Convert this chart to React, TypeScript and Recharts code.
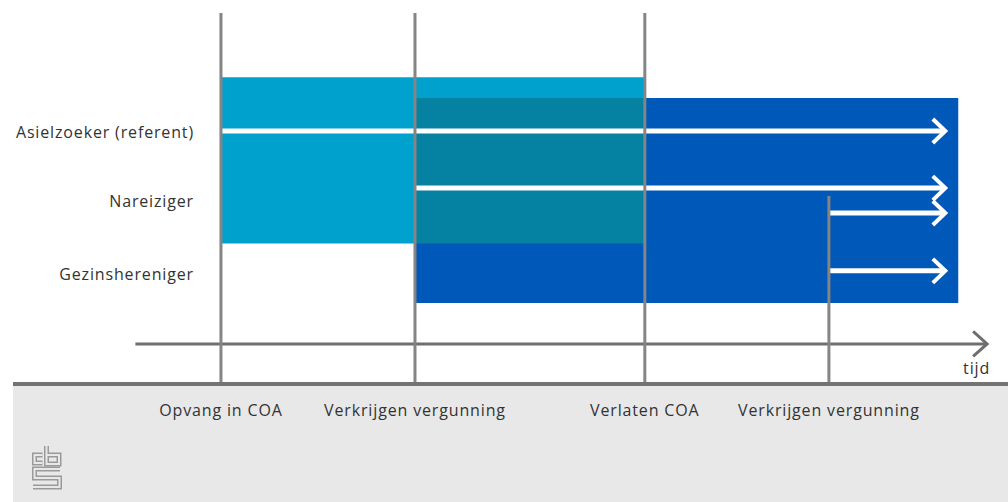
import React from 'react';
import { ComposedChart, XAxis, YAxis, ReferenceArea, ReferenceLine } from 'recharts';

// ---- Data (abstract time units 0-100 on x, vertical position 0-100 on y) ----
const eventLabels = ['Opvang in COA', 'Verkrijgen vergunning', 'Verlaten COA', 'Verkrijgen vergunning'];
const eventTimes = [20.9, 40.4, 63.5, 82.0];
const eventLineTops = [100, 100, 100, 50.7];

const groupLabels = ['Asielzoeker (referent)', 'Nareiziger', 'Gezinshereniger'];
const groupLevels = [67.7, 49.3, 29.6];

const phaseNames = ['Verblijf in COA', 'Met vergunning', 'Met vergunning in COA'];
const phaseStarts = [20.9, 40.4, 40.4];
const phaseEnds = [63.5, 95.0, 63.5];
const phaseBottoms = [37.9, 21.8, 37.9];
const phaseTops = [82.7, 77.1, 77.1];

const pathStarts = [20.9, 40.4, 82.0, 82.0];
const pathEnds = [93.7, 93.7, 93.7, 93.7];
const pathLevels = [68.2, 52.8, 46.1, 30.5];

const timeAxisStart = [12.3];
const timeAxisEnd = [97.9];
const timeAxisLevel = [10.8];
const timeAxisLabel = ['tijd'];

// ---- Styles ----
const W = 1008;
const H = 502;
const FONT = '"Open Sans", sans-serif';
const LS = 0.85;
const TEXT = '#333333';
const phaseColors = ['#00a1cd', '#0058b8', '#0581a2'];
const EVENT_LINE = '#858585';
const AXIS_GREY = '#6e6e6e';

const ArrowShape = (props: any) => {
  const { x1, y1, x2, y2, stroke, strokeWidth, headLen, headHalf, headWidth, caption } = props;
  return (
    <g>
      <line x1={x1} y1={y1} x2={x2 - 2} y2={y2} stroke={stroke} strokeWidth={strokeWidth} />
      <polyline
        points={`${x2 - headLen},${y2 - headHalf} ${x2},${y2} ${x2 - headLen},${y2 + headHalf}`}
        fill="none"
        stroke={stroke}
        strokeWidth={headWidth}
        strokeLinejoin="miter"
      />
      {caption ? (
        <text x={x2 + 3} y={y2 + 30} textAnchor="end" fontSize={16} letterSpacing={LS} fill={TEXT} fontFamily={FONT}>
          {caption}
        </text>
      ) : null}
    </g>
  );
};

const EventTick = (props: any) => {
  const { x, y, payload } = props;
  const i = eventTimes.indexOf(payload.value);
  return (
    <text x={x} y={y + 32} textAnchor="middle" fontSize={16} letterSpacing={LS} fill={TEXT} fontFamily={FONT}>
      {eventLabels[i]}
    </text>
  );
};

const GroupTick = (props: any) => {
  const { x, y, payload } = props;
  const i = groupLevels.indexOf(payload.value);
  return (
    <text x={x + 181} y={y} dy="0.35em" textAnchor="end" fontSize={16} letterSpacing={LS} fill={TEXT} fontFamily={FONT}>
      {groupLabels[i]}
    </text>
  );
};

const CbsLogo = () => (
  <svg width={34} height={48} style={{ position: 'absolute', left: 30, top: 444 }}>
    <g fill="none" strokeLinejoin="miter">
      <g stroke="#9a9a9a" strokeWidth={5}>
        <path d="M12.5,11 H4.5 V19 H12.5" />
        <path d="M16.5,2 V20 H29 V11 H16.5" />
        <path d="M30,25 H4.5 V34 H29.5 V43 H3" />
      </g>
      <g stroke="#e8e8e8" strokeWidth={2}>
        <path d="M12.5,11 H4.5 V19 H12.5" />
        <path d="M16.5,2 V20 H29 V11 H16.5" />
        <path d="M30,25 H4.5 V34 H29.5 V43 H3" />
      </g>
    </g>
  </svg>
);

export default function App() {
  return (
    <div style={{ position: 'absolute', left: 0, top: 0, width: W, height: H, background: '#ffffff', overflow: 'hidden' }}>
      <div style={{ position: 'absolute', left: 13, top: 386, width: W - 13, height: H - 386, background: '#e8e8e8' }} />
      <ComposedChart width={W} height={H} margin={{ top: 13, right: 0, bottom: 0, left: 0 }} data={[]}>
        <XAxis
          type="number"
          dataKey="x"
          domain={[0, 100]}
          ticks={eventTimes}
          interval={0}
          height={118}
          tickLine={false}
          tickSize={0}
          tickMargin={0}
          axisLine={{ stroke: '#737373', strokeWidth: 4 }}
          tick={<EventTick />}
          allowDataOverflow
        />
        <YAxis
          type="number"
          dataKey="y"
          domain={[0, 100]}
          ticks={groupLevels}
          interval={0}
          width={13}
          tickLine={false}
          tickSize={0}
          tickMargin={0}
          axisLine={false}
          tick={<GroupTick />}
          allowDataOverflow
        />
        {phaseNames.map((name, i) => (
          <ReferenceArea
            key={name}
            x1={phaseStarts[i]}
            x2={phaseEnds[i]}
            y1={phaseBottoms[i]}
            y2={phaseTops[i]}
            fill={phaseColors[i]}
            fillOpacity={1}
            stroke="none"
            ifOverflow="visible"
          />
        ))}
        {pathStarts.map((s, i) => (
          <ReferenceLine
            key={`path-${i}`}
            segment={[{ x: s, y: pathLevels[i] }, { x: pathEnds[i], y: pathLevels[i] }]}
            stroke="#ffffff"
            strokeWidth={5}
            ifOverflow="visible"
            shape={(p: any) => <ArrowShape {...p} headLen={12.5} headHalf={12} headWidth={4} />}
          />
        ))}
        <ReferenceLine
          segment={[{ x: timeAxisStart[0], y: timeAxisLevel[0] }, { x: timeAxisEnd[0], y: timeAxisLevel[0] }]}
          stroke={AXIS_GREY}
          strokeWidth={3}
          ifOverflow="visible"
          shape={(p: any) => <ArrowShape {...p} headLen={14} headHalf={12.5} headWidth={3} caption={timeAxisLabel[0]} />}
        />
        {eventTimes.map((t, i) => (
          <ReferenceLine
            key={`event-${i}`}
            segment={[{ x: t, y: eventLineTops[i] }, { x: t, y: 0 }]}
            stroke={EVENT_LINE}
            strokeWidth={3}
            ifOverflow="visible"
          />
        ))}
      </ComposedChart>
      <CbsLogo />
    </div>
  );
}
